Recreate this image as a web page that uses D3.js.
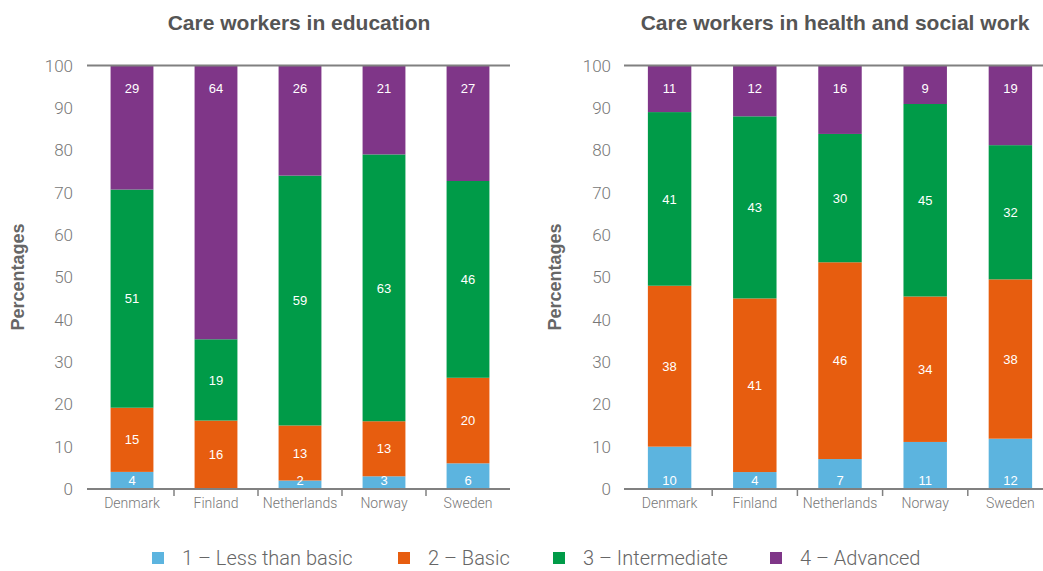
<!DOCTYPE html>
<html lang="en">
<head>
<meta charset="UTF-8">
<script src="https://cdn.jsdelivr.net/npm/d3@7"></script>
<style>
  body { margin: 0; background: #fff; }
  svg { display: block; }
  .tick-label { font-family: Roboto, "Liberation Sans", sans-serif; font-weight: 300; fill: #777; }
  .title { font-family: "Liberation Sans", Arial, sans-serif; font-weight: bold; fill: #555; }
  .bar-label { font-family: "Liberation Sans", Arial, sans-serif; fill: #fff; }
</style>
</head>
<body>
<script>
// data
const categories = ["Denmark", "Finland", "Netherlands", "Norway", "Sweden"];
const levels = ["1 – Less than basic", "2 – Basic", "3 – Intermediate", "4 – Advanced"];
const levelColors = ["#5cb4df", "#e75d0f", "#009b48", "#7f3688"];
const yTicks = [0, 10, 20, 30, 40, 50, 60, 70, 80, 90, 100];

const educLess = [4, 0, 2, 3, 6];
const educBasic = [15, 16, 13, 13, 20];
const educInter = [51, 19, 59, 63, 46];
const educAdv = [29, 64, 26, 21, 27];

const healthLess = [10, 4, 7, 11, 12];
const healthBasic = [38, 41, 46, 34, 38];
const healthInter = [41, 43, 30, 45, 32];
const healthAdv = [11, 12, 16, 9, 19];

const width = 1043, height = 571;
const svg = d3.select("body").append("svg")
  .attr("width", width)
  .attr("height", height);

const y = d3.scaleLinear().domain([0, 100]).range([489, 65.5]);

function rows(series) {
  return categories.map((c, i) => {
    const r = { country: c };
    levels.forEach((l, j) => r[l] = series[j][i]);
    return r;
  });
}

const stack = d3.stack().keys(levels).offset(d3.stackOffsetExpand);

function drawPanel(opts) {
  const g = svg.append("g");
  const x = d3.scaleBand().domain(categories)
    .range(opts.range).paddingInner(0.49).paddingOuter(0.245);
  const step = x.step();

  g.append("text").attr("class", "title")
    .attr("x", opts.titleX).attr("y", 30)
    .attr("text-anchor", "middle")
    .style("font-size", "21px")
    .text(opts.title);

  // y label
  g.append("text")
    .attr("transform", `translate(${opts.ylabelX},277) rotate(-90)`)
    .attr("text-anchor", "middle")
    .style("font-family", "'Liberation Sans', Arial, sans-serif")
    .style("font-size", "18px").style("font-weight", "bold")
    .style("fill", "#666")
    .text("Percentages");

  g.selectAll(".ytick").data(yTicks).enter().append("text")
    .attr("class", "tick-label")
    .attr("x", opts.tickX).attr("y", d => y(d))
    .attr("dy", "0.36em")
    .attr("text-anchor", "end")
    .style("font-size", "17px")
    .text(d => d);

  const stacked = stack(rows(opts.data));

  const layer = g.selectAll(".layer").data(stacked).enter().append("g")
    .attr("fill", (d, i) => levelColors[i]);
  layer.selectAll("rect").data(d => d).enter().append("rect")
    .attr("x", d => x(d.data.country))
    .attr("width", x.bandwidth())
    .attr("y", d => y(d[1] * 100))
    .attr("height", d => y(d[0] * 100) - y(d[1] * 100));

  // labels
  stacked.forEach((s, j) => {
    g.selectAll(null).data(s.filter(d => d.data[s.key] > 0)).enter().append("text")
      .attr("class", "bar-label")
      .attr("x", d => x(d.data.country) + x.bandwidth() / 2)
      .attr("y", d => {
        if (j === 0) return y(0) - 4;
        if (j === 3) return y(100) + 27;
        return (y(d[0] * 100) + y(d[1] * 100)) / 2;
      })
      .attr("dy", j === 0 || j === 3 ? 0 : "0.36em")
      .attr("text-anchor", "middle")
      .style("font-size", "13px")
      .text(d => d.data[s.key]);
  });

  // top and bottom lines
  [0, 100].forEach(v => {
    g.append("line")
      .attr("x1", opts.lineStart).attr("x2", opts.lineEnd)
      .attr("y1", y(v)).attr("y2", y(v))
      .attr("stroke", "#808080").attr("stroke-width", 2);
  });

  // separating ticks
  categories.slice(1).forEach(c => {
    const bx = x(c) - (step - x.bandwidth()) / 2;
    g.append("line")
      .attr("x1", bx).attr("x2", bx)
      .attr("y1", y(0)).attr("y2", y(0) + 7)
      .attr("stroke", "#808080").attr("stroke-width", 1.5);
  });

  g.selectAll(".xlab").data(categories).enter().append("text")
    .attr("class", "tick-label")
    .attr("x", d => x(d) + x.bandwidth() / 2)
    .attr("y", 508)
    .attr("text-anchor", "middle")
    .style("font-size", "14px")
    .text(d => d);
}

drawPanel({
  title: "Care workers in education", titleX: 299,
  data: [educLess, educBasic, educInter, educAdv],
  range: [90, 510], lineStart: 87, lineEnd: 510,
  tickX: 73, ylabelX: 24
});

drawPanel({
  title: "Care workers in health and social work", titleX: 835,
  data: [healthLess, healthBasic, healthInter, healthAdv],
  range: [627, 1053], lineStart: 624, lineEnd: 1043,
  tickX: 611, ylabelX: 561
});

// legend
const legendX = [152, 398, 553, 770];
const legend = svg.append("g").selectAll("g").data(levels).enter().append("g")
  .attr("transform", (d, i) => `translate(${legendX[i]},552)`);
legend.append("rect").attr("width", 12).attr("height", 12)
  .attr("fill", (d, i) => levelColors[i]);
legend.append("text").attr("class", "tick-label")
  .attr("x", 30).attr("y", 6).attr("dy", "0.36em")
  .style("font-size", "20px").style("fill", "#666")
  .text(d => d);
</script>
</body>
</html>
